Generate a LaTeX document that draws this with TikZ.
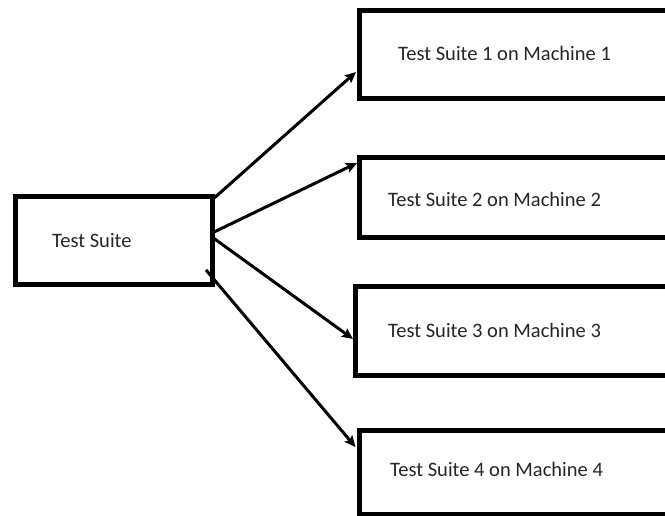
\documentclass[tikz,border=0pt]{standalone}
\usepackage{fontspec}
\setmainfont{Carlito}
\usetikzlibrary{arrows.meta}
\begin{document}
\begin{tikzpicture}[x=1pt,y=-1pt,
  box/.style={draw=black,line width=5pt,fill=white,rectangle,outer sep=0pt,inner sep=0pt,anchor=north west},
  lbl/.style={inner sep=0pt,anchor=west,text=black!85,font=\fontsize{20.5}{24}\selectfont},
  conn/.style={line width=3pt,-{Stealth[length=11pt,width=10pt,inset=2pt]}}]
\clip (0,0) rectangle (665,516);
\useasboundingbox (0,0) rectangle (665,516);
\fill[white] (0,0) rectangle (665,516);

% source box
\node[box,minimum width=197pt,minimum height=88pt] (ts) at (15,197) {};
\node[lbl] (tslbl) at (52,241) {Test Suite};

% machine boxes (they run off the right side)
\node[box,minimum width=340pt,minimum height=88pt] (m1) at (359,10.5) {};
\node[lbl] (m1lbl) at (398,53) {Test Suite 1 on Machine 1};
\node[box,minimum width=340pt,minimum height=80pt] (m2) at (359.5,157.5) {};
\node[lbl] (m2lbl) at (388,199) {Test Suite 2 on Machine 2};
\node[box,minimum width=340pt,minimum height=88.5pt] (m3) at (355.5,287) {};
\node[lbl] (m3lbl) at (388,330) {Test Suite 3 on Machine 3};
\node[box,minimum width=340pt,minimum height=84pt] (m4) at (359.5,430.5) {};
\node[lbl] (m4lbl) at (390,469) {Test Suite 4 on Machine 4};

% connectors
\draw[conn] ([yshift=-3pt]ts.north east) -- ([xshift=-3pt,yshift=-61.5pt]m1.north west);
\draw[conn] ([yshift=-36pt]ts.north east) -- ([xshift=-2.5pt,yshift=-5.5pt]m2.north west);
\draw[conn] ([yshift=-40pt]ts.north east) -- ([xshift=-2.5pt,yshift=-52pt]m3.north west);
\draw[conn] ([xshift=-6pt,yshift=-73pt]ts.north east) -- ([xshift=-4pt,yshift=-16.5pt]m4.north west);
\end{tikzpicture}
\end{document}
